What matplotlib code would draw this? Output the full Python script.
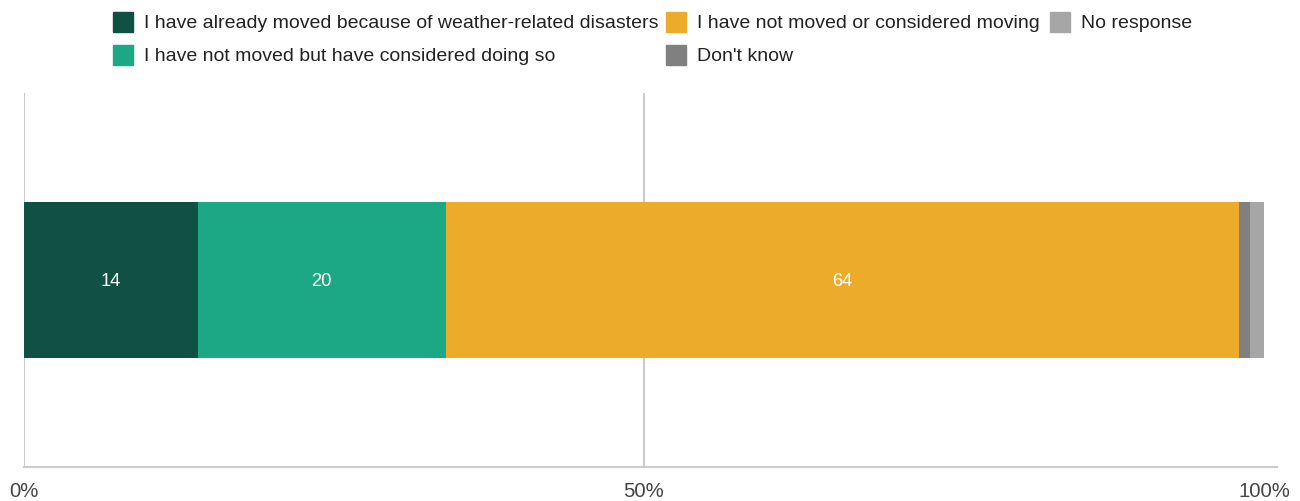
import matplotlib
matplotlib.use("Agg")
import matplotlib.pyplot as plt
from matplotlib.patches import Rectangle

plt.rcParams['font.family'] = ['Liberation Sans', 'DejaVu Sans']

# Data
categories = ["I have already moved because of weather-related disasters",
              "I have not moved but have considered doing so",
              "I have not moved or considered moving",
              "Don't know",
              "No response"]
values = [14, 20, 64, 0.9, 1.1]
labels_shown = ["14", "20", "64", "", ""]
colors = ["#0f5142", "#1ca885", "#edab2c", "#808080", "#a6a6a6"]
tick_values = [0, 50, 100]
tick_labels = ["0%", "50%", "100%"]
grid_values = [0, 50]

W, H = 1300, 501
fig = plt.figure(figsize=(W / 100, H / 100), dpi=100)
ax = fig.add_axes([24 / W, (H - 467) / H, 1253 / W, (467 - 93) / H])

left = 0
for v, c, lab in zip(values, colors, labels_shown):
    ax.barh(0, v, left=left, height=0.417, color=c, zorder=3)
    if lab:
        ax.text(left + v / 2, -0.005, lab, ha='center', va='center', color='white',
                fontsize=13.2, zorder=4)
    left += v

ax.set_xlim(0, 101.05)
ax.set_ylim(-0.5, 0.5)
ax.vlines(grid_values, -0.5, 0.5, colors='#cccccc', linewidth=1.5, zorder=1)
for s in ['top', 'right', 'left']:
    ax.spines[s].set_visible(False)
ax.spines['bottom'].set_color('#cccccc')
ax.spines['bottom'].set_linewidth(1.5)
ax.set_yticks([])
ax.set_xticks(tick_values)
ax.set_xticklabels(tick_labels, fontsize=14.6, color='#444444')
ax.tick_params(axis='x', length=0, pad=10.5)

# Legend (manual layout)
leg_pos = [(113, 22), (113, 55), (666, 22), (666, 55), (1050, 22)]
sq = 20
for (x, y), c, lab in zip(leg_pos, colors, categories):
    fig.add_artist(Rectangle(((x) / W, (H - y - sq / 2) / H), sq / W, sq / H,
                             transform=fig.transFigure, color=c))
    fig.text((x + 31) / W, (H - y - 1.5) / H, lab, ha='left', va='center',
             fontsize=14.0, color='#222222')

fig.savefig("out.png", dpi=100)
